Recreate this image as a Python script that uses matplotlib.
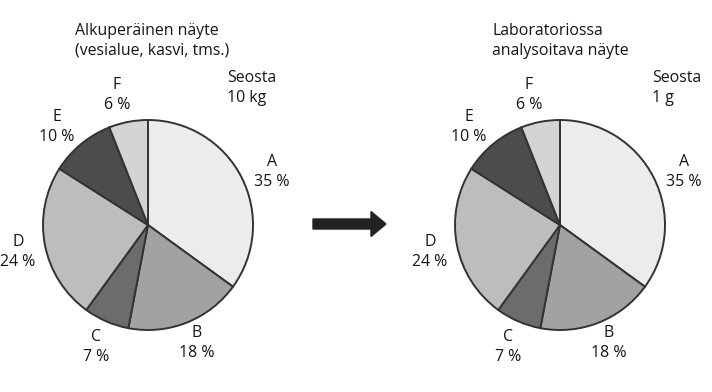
import matplotlib.pyplot as plt
from matplotlib.patches import FancyArrow

# data
labels = ["A", "B", "C", "D", "E", "F"]
shares = [35, 18, 7, 24, 10, 6]
colors = ["#ececec", "#a2a2a2", "#6c6c6c", "#bdbdbd", "#4c4c4c", "#d4d4d4"]
titles = ["Alkuperäinen näyte\n(vesialue, kasvi, tms.)",
          "Laboratoriossa\nanalysoitava näyte"]
amounts = ["Seosta\n10 kg", "Seosta\n1 g"]

W, H = 712, 392
plt.rcParams["font.family"] = ["Open Sans", "DejaVu Sans"]

fig = plt.figure(figsize=(W / 100, H / 100), dpi=100)
ax = fig.add_axes([0, 0, 1, 1])

def y(py):
    # pixel row -> data y (origin bottom)
    return H - py

pies = [
    {"cx": 148, "cy": 225, "r": 105, "dx": 0, "tx": 75, "sx": 227},
    {"cx": 560, "cy": 225, "r": 105, "dx": 412, "tx": 492, "sx": 652},
]
# label positions for A..F on the left pie (pixels)
label_pos = {"A": (272, 172), "B": (197, 343), "C": (96, 347),
             "D": (18, 252), "E": (57, 127), "F": (117, 95)}

fs = 11.4
txt = "#151515"
for p, title, amount in zip(pies, titles, amounts):
    ax.pie(shares, colors=colors, startangle=90, counterclock=False,
           center=(p["cx"], y(p["cy"])), radius=p["r"],
           wedgeprops={"edgecolor": "#333333", "linewidth": 1.4})
    for lab, val in zip(labels, shares):
        lx, ly = label_pos[lab]
        ax.text(lx + p["dx"], y(ly), f"{lab}\n{val} %", ha="center",
                va="center", fontsize=fs, linespacing=1.3, color=txt)
    ax.text(p["tx"], y(23), title, ha="left", va="top", fontsize=fs,
            linespacing=1.3, color=txt)
    ax.text(p["sx"], y(70), amount, ha="left", va="top", fontsize=fs,
            linespacing=1.3, color=txt)

ax.add_patch(FancyArrow(313, y(224), 58, 0, width=10, head_width=25,
                        head_length=15, length_includes_head=False,
                        color="#222222"))

ax.set_xlim(0, W)
ax.set_ylim(0, H)
ax.set_aspect("equal")
ax.axis("off")

fig.savefig("out.png", dpi=100, facecolor="white")
